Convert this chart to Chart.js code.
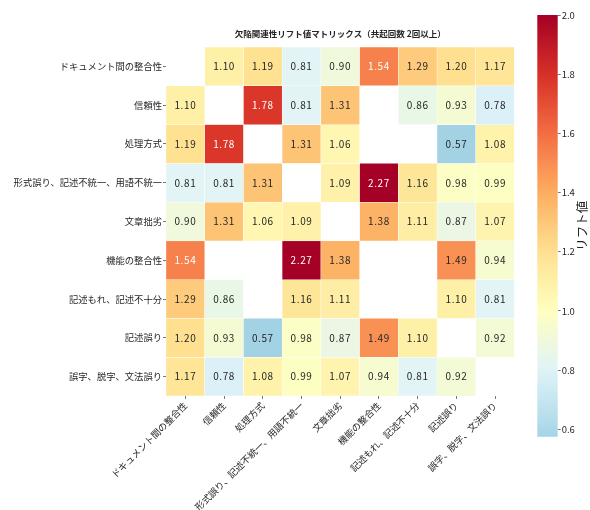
<!DOCTYPE html>
<html>
<head>
<meta charset="utf-8">
<script src="https://cdn.jsdelivr.net/npm/chart.js@4.4.1/dist/chart.umd.min.js"></script>
<style>
  html, body { margin: 0; padding: 0; background: #fff; }
  #wrap { position: relative; width: 590px; height: 510px; }
  #heat { position: absolute; left: 0; top: 0; }
  #cbar { position: absolute; left: 520px; top: 0; }
</style>
</head>
<body>
<div id="wrap">
  <canvas id="heat" width="590" height="510"></canvas>
  <canvas id="cbar" width="70" height="510"></canvas>
</div>
<script>
// 欠陥分類（行・列共通）
const categories = [
  'ドキュメント間の整合性',
  '信頼性',
  '処理方式',
  '形式誤り、記述不統一、用語不統一',
  '文章拙劣',
  '機能の整合性',
  '記述もれ、記述不十分',
  '記述誤り',
  '誤字、脱字、文法誤り'
];

// リフト値（null = 共起2回未満 or 対角）
const liftRow0 = [null, 1.10, 1.19, 0.81, 0.90, 1.54, 1.29, 1.20, 1.17];
const liftRow1 = [1.10, null, 1.78, 0.81, 1.31, null, 0.86, 0.93, 0.78];
const liftRow2 = [1.19, 1.78, null, 1.31, 1.06, null, null, 0.57, 1.08];
const liftRow3 = [0.81, 0.81, 1.31, null, 1.09, 2.27, 1.16, 0.98, 0.99];
const liftRow4 = [0.90, 1.31, 1.06, 1.09, null, 1.38, 1.11, 0.87, 1.07];
const liftRow5 = [1.54, null, null, 2.27, 1.38, null, null, 1.49, 0.94];
const liftRow6 = [1.29, 0.86, null, 1.16, 1.11, null, null, 1.10, 0.81];
const liftRow7 = [1.20, 0.93, 0.57, 0.98, 0.87, 1.49, 1.10, null, 0.92];
const liftRow8 = [1.17, 0.78, 1.08, 0.99, 1.07, 0.94, 0.81, 0.92, null];
const liftValues = [liftRow0, liftRow1, liftRow2, liftRow3, liftRow4, liftRow5, liftRow6, liftRow7, liftRow8];

const colorbarTicks = [0.6, 0.8, 1.0, 1.2, 1.4, 1.6, 1.8, 2.0];
const vMin = 0.575, vMax = 2.0, vCenter = 1.0;

const titleText = '欠陥関連性リフト値マトリックス（共起回数 2回以上）';
const colorbarLabel = 'リフト値';

const FONT = '"Noto Sans CJK JP", "Noto Sans", sans-serif';
const TEXT = '#262626';
Chart.defaults.font.family = FONT;
Chart.defaults.color = TEXT;

// RdYlBu_r, center=1
const cmapStops = ['#313695','#4575b4','#74add1','#abd9e9','#e0f3f8','#ffffbf','#fee090','#fdae61','#f46d43','#d73027','#a50026']
  .map(h => [parseInt(h.slice(1,3),16), parseInt(h.slice(3,5),16), parseInt(h.slice(5,7),16)]);

function cmap(v) {
  const half = Math.max(vMax - vCenter, vCenter - vMin);
  let t = (v - (vCenter - half)) / (2 * half);
  t = Math.min(1, Math.max(0, t));
  const p = t * (cmapStops.length - 1);
  const i = Math.min(cmapStops.length - 2, Math.floor(p));
  const f = p - i;
  const a = cmapStops[i], b = cmapStops[i + 1];
  return [0, 1, 2].map(k => a[k] + (b[k] - a[k]) * f);
}
const rgb = c => `rgb(${c.map(Math.round).join(',')})`;
function luminance(c) {
  const lin = c.map(x => { x /= 255; return x <= 0.03928 ? x / 12.92 : Math.pow((x + 0.055) / 1.055, 2.4); });
  return 0.2126 * lin[0] + 0.7152 * lin[1] + 0.0722 * lin[2];
}

// 各行を浮動棒グラフで描く
const datasets = categories.map((name, r) => ({
  label: name,
  data: liftValues[r].map(v => v === null ? null : [r, r + 1]),
  lift: liftValues[r],
  backgroundColor: liftValues[r].map(v => v === null ? 'rgba(0,0,0,0)' : rgb(cmap(v))),
  borderColor: '#ffffff',
  borderWidth: 0.5,
  borderSkipped: false,
  grouped: false,
  barPercentage: 1,
  categoryPercentage: 1
}));

const cellText = {
  id: 'cellText',
  afterDatasetsDraw(chart) {
    const ctx = chart.ctx;
    ctx.save();
    ctx.font = `10px ${FONT}`;
    ctx.textAlign = 'center';
    ctx.textBaseline = 'middle';
    if ('letterSpacing' in ctx) ctx.letterSpacing = '0.6px';
    chart.data.datasets.forEach((ds, di) => {
      const meta = chart.getDatasetMeta(di);
      meta.data.forEach((el, ci) => {
        const v = ds.lift[ci];
        if (v === null) return;
        const p = el.getCenterPoint();
        ctx.fillStyle = luminance(cmap(v)) < 0.408 ? '#ffffff' : TEXT;
        ctx.fillText(v.toFixed(2), p.x, p.y);
      });
    });
    ctx.restore();
  }
};

const heatTitle = {
  id: 'heatTitle',
  afterDraw(chart) {
    const { ctx, chartArea } = chart;
    ctx.save();
    ctx.font = `bold 8.5px ${FONT}`;
    ctx.fillStyle = TEXT;
    ctx.textAlign = 'center';
    ctx.textBaseline = 'middle';
    ctx.fillText(titleText, (chartArea.left + chartArea.right) / 2, 34);
    ctx.restore();
  }
};

new Chart(document.getElementById('heat'), {
  type: 'bar',
  data: { labels: categories, datasets },
  options: {
    responsive: false,
    animation: false,
    layout: { padding: { top: 47, right: 75.5, bottom: 0, left: 0 } },
    plugins: { legend: { display: false }, tooltip: { enabled: false } },
    scales: {
      x: {
        type: 'category',
        grid: { offset: false, drawOnChartArea: false, tickLength: 3, tickColor: '#555', lineWidth: 0.8 },
        border: { display: false },
        ticks: { autoSkip: false, maxRotation: 45, minRotation: 45, padding: 1, font: { size: 9.3 }, color: TEXT },
        afterFit(scale) { scale.height = 114; }
      },
      y: {
        type: 'linear',
        min: 0,
        max: categories.length,
        reverse: true,
        afterBuildTicks(scale) { scale.ticks = categories.map((_, i) => ({ value: i + 0.5 })); },
        grid: { drawOnChartArea: false, tickLength: 3, tickColor: '#555', lineWidth: 0.8 },
        border: { display: false },
        ticks: {
          autoSkip: false,
          padding: 1,
          font: { size: 9.3 },
          color: TEXT,
          callback: (val, idx) => categories[idx]
        },
        afterFit(scale) { scale.width = 166; }
      }
    }
  },
  plugins: [cellText, heatTitle]
});

// カラーバー
const cbarLabel = {
  id: 'cbarLabel',
  afterDraw(chart) {
    const { ctx, chartArea } = chart;
    ctx.save();
    ctx.font = `12.5px ${FONT}`;
    ctx.fillStyle = TEXT;
    ctx.textAlign = 'center';
    ctx.textBaseline = 'middle';
    ctx.translate(62, (chartArea.top + chartArea.bottom) / 2);
    ctx.rotate(-Math.PI / 2);
    ctx.fillText(colorbarLabel, 0, 0);
    ctx.restore();
  }
};

new Chart(document.getElementById('cbar'), {
  type: 'bar',
  data: {
    labels: [colorbarLabel],
    datasets: [{
      data: [[vMin, vMax]],
      barPercentage: 1,
      categoryPercentage: 1,
      borderWidth: 0,
      borderSkipped: false,
      backgroundColor(c) {
        const area = c.chart.chartArea;
        if (!area) return '#ffffbf';
        const yScale = c.chart.scales.y;
        const g = c.chart.ctx.createLinearGradient(0, yScale.getPixelForValue(vMin), 0, yScale.getPixelForValue(vMax));
        const n = 30;
        for (let k = 0; k <= n; k++) {
          g.addColorStop(k / n, rgb(cmap(vMin + (vMax - vMin) * k / n)));
        }
        return g;
      }
    }]
  },
  options: {
    responsive: false,
    animation: false,
    layout: { padding: { top: 15, right: 0, bottom: 73.3, left: 17.3 } },
    plugins: { legend: { display: false }, tooltip: { enabled: false } },
    scales: {
      x: { display: false },
      y: {
        position: 'right',
        min: vMin,
        max: vMax,
        afterBuildTicks(scale) { scale.ticks = colorbarTicks.map(v => ({ value: v })); },
        grid: { drawOnChartArea: false, tickLength: 3, tickColor: '#555', lineWidth: 0.8 },
        border: { display: false },
        ticks: { padding: 1, font: { size: 9.5 }, color: TEXT, callback: v => Number(v).toFixed(1) },
        afterFit(scale) { scale.width = 32.3; }
      }
    }
  },
  plugins: [cbarLabel]
});
</script>
</body>
</html>
